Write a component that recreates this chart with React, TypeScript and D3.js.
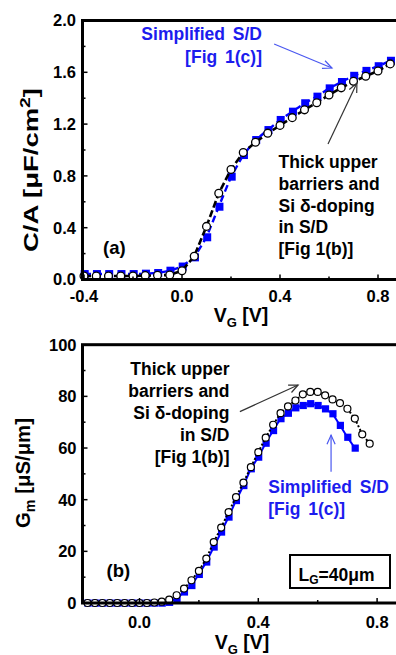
import React from 'react';
import * as d3 from 'd3';

// ---------- data ----------
const vgA = [-0.4, -0.35, -0.3, -0.25, -0.2, -0.15, -0.1, -0.05, 0, 0.05, 0.1, 0.15, 0.2, 0.25, 0.3, 0.35, 0.4, 0.45, 0.5, 0.55, 0.6, 0.65, 0.7, 0.75, 0.8, 0.85];
const capThick = [0.027, 0.027, 0.027, 0.027, 0.027, 0.03, 0.032, 0.035, 0.068, 0.18, 0.41, 0.666, 0.85, 0.98, 1.06, 1.13, 1.19, 1.25, 1.31, 1.365, 1.425, 1.48, 1.53, 1.57, 1.61, 1.665];
const capSimplified = [0.042, 0.042, 0.042, 0.042, 0.042, 0.045, 0.05, 0.068, 0.1, 0.171, 0.326, 0.562, 0.794, 0.961, 1.077, 1.154, 1.232, 1.296, 1.361, 1.412, 1.476, 1.525, 1.573, 1.611, 1.647, 1.689];

const vgB = [-0.175, -0.15, -0.125, -0.1, -0.075, -0.05, -0.025, 0, 0.025, 0.05, 0.075, 0.1, 0.125, 0.15, 0.175, 0.2, 0.225, 0.25, 0.275, 0.3, 0.325, 0.35, 0.375, 0.4, 0.425, 0.45, 0.475, 0.5, 0.525, 0.55, 0.575, 0.6, 0.625, 0.65, 0.675, 0.7, 0.725, 0.75, 0.775];
const gmThick = [0, 0, 0, 0, 0, 0, 0, 0, 0, 0.2, 0.5, 1.3, 3.0, 5.6, 8.8, 12.4, 17.2, 23.6, 29.2, 35.2, 41.0, 46.6, 52.6, 58.4, 64.0, 69.0, 73.5, 76.1, 78.4, 80.8, 81.7, 81.7, 80.4, 78.8, 77.4, 75.2, 71.4, 65.3, 61.7];
const gmSimplified = [0, 0, 0, 0, 0, 0, 0, 0, 0, 0, 0, 0.3, 1.8, 4.3, 6.8, 11.1, 15.9, 21.7, 27.5, 33.3, 39.7, 45.5, 52.0, 56.5, 61.9, 66.8, 71.4, 73.5, 75.6, 76.5, 77.2, 76.5, 75.2, 73.3, 68.8, 64.2, 60.0];

const capTicks = [0, 0.4, 0.8, 1.2, 1.6, 2.0];
const capTickLabels = ['0.0', '0.4', '0.8', '1.2', '1.6', '2.0'];
const capMinor = [0.2, 0.6, 1.0, 1.4, 1.8];
const vgATicks = [-0.4, 0, 0.4, 0.8];
const vgATickLabels = ['-0.4', '0.0', '0.4', '0.8'];
const vgAMinor = [-0.2, 0.2, 0.6];

const gmTicks = [0, 20, 40, 60, 80, 100];
const gmTickLabels = ['0', '20', '40', '60', '80', '100'];
const gmMinor = [10, 30, 50, 70, 90];
const vgBTicks = [0, 0.4, 0.8];
const vgBTickLabels = ['0.0', '0.4', '0.8'];
const vgBMinor = [0.2, 0.6];

const annThick = ['Thick upper', 'barriers and', 'Si \u03b4-doping', 'in S/D', '[Fig 1(b)]'];
const annSimpl = ['Simplified S/D', '[Fig 1(c)]'];

// ---------- style ----------
const FONT = "'Liberation Sans', Arial, sans-serif";
const BLUE = '#0000ff';
const BLUE_TXT = '#1c1cee';
const BLUE_ARROW = '#4a58f0';
const BLACK = '#000';

function Arrow({ x1, y1, x2, y2, color }: { x1: number; y1: number; x2: number; y2: number; color: string }) {
  const ang = Math.atan2(y2 - y1, x2 - x1);
  const L = 10;
  const a = 0.42;
  const p1 = [x2 - L * Math.cos(ang - a), y2 - L * Math.sin(ang - a)];
  const p2 = [x2 - L * Math.cos(ang + a), y2 - L * Math.sin(ang + a)];
  return (
    <g stroke={color} strokeWidth={1.2} fill="none">
      <line x1={x1} y1={y1} x2={x2} y2={y2} />
      <path d={`M${p1[0]},${p1[1]} L${x2},${y2} L${p2[0]},${p2[1]}`} />
    </g>
  );
}

export default function App() {
  const xA = d3.scaleLinear().domain([-0.4, 0.8]).range([84, 378]);
  const yA = d3.scaleLinear().domain([0, 2]).range([279.5, 20.5]);
  const xB = d3.scaleLinear().domain([0, 0.8]).range([139.5, 377.1]);
  const yB = d3.scaleLinear().domain([0, 100]).range([603, 344.7]);

  const lineA = (ys: number[]) =>
    d3.line<number>().x((_, i) => xA(vgA[i])).y((d) => yA(d))(ys) || '';
  const lineB = (ys: number[]) =>
    d3.line<number>().x((_, i) => xB(vgB[i])).y((d) => yB(d))(ys) || '';

  const leftA = 82.5, rightA = 402, topA = yA(2), botA = yA(0);
  const leftB = 82.5, rightB = 402, topB = yB(100), botB = yB(0);

  const txt = { fontFamily: FONT, fontWeight: 700 as const };

  return (
    <svg width={396} height={655} style={{ position: 'absolute', left: 0, top: 0, background: '#fff' }}>
      <rect width={396} height={655} fill="#fff" />
      {/* ================= Panel (a) ================= */}
      <g>
        <path d={lineA(capSimplified)} fill="none" stroke={BLUE} strokeWidth={2.4} strokeDasharray="7,4" />
        {capSimplified.map((v, i) => (
          <rect key={'sa' + i} x={xA(vgA[i]) - 3.3} y={yA(v) - 4} width={8} height={8} fill={BLUE} />
        ))}
        <path d={lineA(capThick)} fill="none" stroke={BLACK} strokeWidth={2.6} strokeDasharray="7,3" />
        {capThick.map((v, i) => (
          <circle key={'ca' + i} cx={xA(vgA[i])} cy={yA(v)} r={3.9} fill="#fff" stroke={BLACK} strokeWidth={1.3} />
        ))}
        {capTicks.map((t) => (
          <line key={'yta' + t} x1={leftA} x2={leftA + 5} y1={yA(t)} y2={yA(t)} stroke={BLACK} strokeWidth={1.5} />
        ))}
        {capMinor.map((t) => (
          <line key={'ymia' + t} x1={leftA} x2={leftA + 3} y1={yA(t)} y2={yA(t)} stroke={BLACK} strokeWidth={1.5} />
        ))}
        {vgATicks.map((t) => (
          <line key={'xta' + t} x1={xA(t)} x2={xA(t)} y1={botA} y2={botA - 5} stroke={BLACK} strokeWidth={1.5} />
        ))}
        {vgAMinor.map((t) => (
          <line key={'xmia' + t} x1={xA(t)} x2={xA(t)} y1={botA} y2={botA - 3} stroke={BLACK} strokeWidth={1.5} />
        ))}
        <rect x={leftA} y={topA} width={rightA - leftA} height={botA - topA} fill="none" stroke={BLACK} strokeWidth={3} />
        {capTicks.map((t, i) => (
          <text key={'ytla' + t} x={76} y={yA(t)} dy="0.36em" textAnchor="end" fontSize={16.5} {...txt}>
            {capTickLabels[i]}
          </text>
        ))}
        {vgATicks.map((t, i) => (
          <text key={'xtla' + t} x={xA(t)} y={301.5} textAnchor="middle" fontSize={16.5} {...txt}>
            {vgATickLabels[i]}
          </text>
        ))}
        <text x={241} y={322} textAnchor="middle" fontSize={19.5} {...txt}>
          V<tspan fontSize={13} dy={5}>G</tspan>
          <tspan dy={-5}> [V]</tspan>
        </text>
        <text transform="translate(37.5,170) rotate(-90)" textAnchor="middle" fontSize={20} {...txt} textLength={164} lengthAdjust="spacingAndGlyphs">
          C/A [{'\u03bc'}F/cm<tspan fontSize={14} dy={-8}>2</tspan>
          <tspan dy={8}>]</tspan>
        </text>
        <text x={103} y={254} fontSize={18.5} {...txt}>(a)</text>
        {annSimpl.map((s, i) => (
          <text key={'asa' + i} x={262} y={40 + i * 23.3} textAnchor="end" fontSize={17.5} fill={BLUE_TXT} wordSpacing={3} {...txt}>
            {s}
          </text>
        ))}
        {annThick.map((s, i) => (
          <text key={'ata' + i} x={278.5} y={168.3 + i * 21.7} fontSize={17.5} fill={BLACK} {...txt}>
            {s}
          </text>
        ))}
        <Arrow x1={xA(0.376)} y1={yA(1.818)} x2={xA(0.612)} y2={yA(1.633)} color={BLUE_ARROW} />
        <Arrow x1={xA(0.596)} y1={yA(1.046)} x2={xA(0.714)} y2={yA(1.517)} color="#333" />
      </g>

      {/* ================= Panel (b) ================= */}
      <g>
        <path d={lineB(gmSimplified)} fill="none" stroke={BLUE} strokeWidth={2} />
        {gmSimplified.map((v, i) => (
          <rect key={'sb' + i} x={xB(vgB[i]) - 3.2} y={yB(v) - 3.5} width={7.2} height={7.2} fill={BLUE} />
        ))}
        <path d={lineB(gmThick)} fill="none" stroke={BLACK} strokeWidth={2} strokeDasharray="2,2" />
        {gmThick.map((v, i) => (
          <circle key={'cb' + i} cx={xB(vgB[i])} cy={yB(v)} r={3.5} fill="#fff" stroke={BLACK} strokeWidth={1.2} />
        ))}
        {gmTicks.map((t) => (
          <line key={'ytb' + t} x1={leftB} x2={leftB + 5} y1={yB(t)} y2={yB(t)} stroke={BLACK} strokeWidth={1.5} />
        ))}
        {gmMinor.map((t) => (
          <line key={'ymib' + t} x1={leftB} x2={leftB + 3} y1={yB(t)} y2={yB(t)} stroke={BLACK} strokeWidth={1.5} />
        ))}
        {vgBTicks.map((t) => (
          <line key={'xtb' + t} x1={xB(t)} x2={xB(t)} y1={botB} y2={botB - 5} stroke={BLACK} strokeWidth={1.5} />
        ))}
        {vgBMinor.map((t) => (
          <line key={'xmib' + t} x1={xB(t)} x2={xB(t)} y1={botB} y2={botB - 3} stroke={BLACK} strokeWidth={1.5} />
        ))}
        <rect x={leftB} y={topB} width={rightB - leftB} height={botB - topB} fill="none" stroke={BLACK} strokeWidth={3} />
        {gmTicks.map((t, i) => (
          <text key={'ytlb' + t} x={76.5} y={yB(t)} dy="0.36em" textAnchor="end" fontSize={16.5} {...txt}>
            {gmTickLabels[i]}
          </text>
        ))}
        {vgBTicks.map((t, i) => (
          <text key={'xtlb' + t} x={xB(t)} y={628} textAnchor="middle" fontSize={16.5} {...txt}>
            {vgBTickLabels[i]}
          </text>
        ))}
        <text x={242} y={648.5} textAnchor="middle" fontSize={19.5} {...txt}>
          V<tspan fontSize={13} dy={5}>G</tspan>
          <tspan dy={-5}> [V]</tspan>
        </text>
        <text transform="translate(30,473) rotate(-90)" textAnchor="middle" fontSize={20} {...txt} textLength={110} lengthAdjust="spacingAndGlyphs">
          G<tspan fontSize={14} dy={5}>m</tspan>
          <tspan dy={-5}> [{'\u03bc'}S/{'\u03bc'}m]</tspan>
        </text>
        <text x={106.5} y={577} fontSize={18.5} {...txt}>(b)</text>
        {annThick.map((s, i) => (
          <text key={'atb' + i} x={229.5} y={375 + i * 21.9} textAnchor="end" fontSize={17.5} fill={BLACK} {...txt}>
            {s}
          </text>
        ))}
        {annSimpl.map((s, i) => (
          <text key={'asb' + i} x={268.3} y={492.7 + i * 22} fontSize={17.5} fill={BLUE_TXT} wordSpacing={3} {...txt}>
            {s}
          </text>
        ))}
        <Arrow x1={xB(0.338)} y1={yB(74.1)} x2={xB(0.534)} y2={yB(84.4)} color="#333" />
        <Arrow x1={xB(0.645)} y1={yB(50.8)} x2={xB(0.645)} y2={yB(65.0)} color={BLUE_ARROW} />
        <rect x={290} y={555} width={100} height={33} fill="#fff" stroke={BLACK} strokeWidth={2} />
        <text x={298.5} y={580.5} fontSize={17.5} {...txt}>
          L<tspan fontSize={12} dy={3}>G</tspan>
          <tspan dy={-3}>=40{'\u03bc'}m</tspan>
        </text>
      </g>
    </svg>
  );
}
